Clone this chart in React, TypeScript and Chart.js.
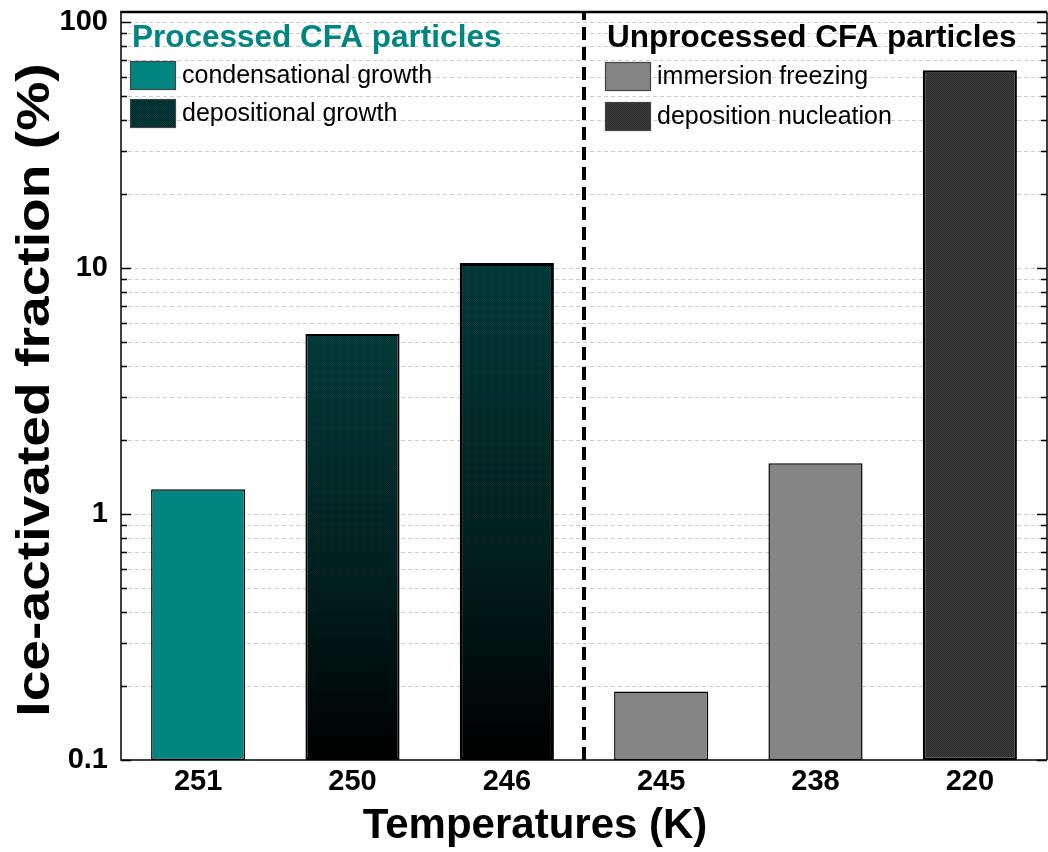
import React, { useEffect, useRef } from "react";
import { Chart, registerables } from "chart.js";

Chart.register(...registerables);

// Measured ice-activated fractions (%) at each temperature
const temperatures = ["251", "250", "246", "245", "238", "220"];
const activatedFraction = [1.26, 5.4, 10.5, 0.19, 1.61, 63.8];
const mechanisms = [
  "condensational growth",
  "depositional growth",
  "depositional growth",
  "immersion freezing",
  "immersion freezing",
  "deposition nucleation",
];

// Legend groups
const processedTitle = "Processed CFA particles";
const processedItems = ["condensational growth", "depositional growth"];
const unprocessedTitle = "Unprocessed CFA particles";
const unprocessedItems = ["immersion freezing", "deposition nucleation"];

// Log axis
const yTickLabels = [0.1, 1, 10, 100];
const yMin = 0.1;
const yMax = 110;

const FONT = "'Liberation Sans', Arial, Helvetica, sans-serif";
const TEAL = "#008580";

const gridValues: number[] = [];
for (let e = -1; e <= 1; e++) {
  for (let d = 1; d <= 9; d++) gridValues.push(Number((d * Math.pow(10, e)).toPrecision(3)));
}
gridValues.push(100);

function checker(ctx: CanvasRenderingContext2D, base: string, dot: string) {
  const c = document.createElement("canvas");
  c.width = 2;
  c.height = 2;
  const g = c.getContext("2d")!;
  g.fillStyle = base;
  g.fillRect(0, 0, 2, 2);
  g.fillStyle = dot;
  g.fillRect(0, 0, 1, 1);
  g.fillRect(1, 1, 1, 1);
  return ctx.createPattern(c, "repeat")!;
}

function fillFor(
  ctx: CanvasRenderingContext2D,
  mech: string,
  top: number,
  bottom: number,
  swatch = false
): string | CanvasGradient | CanvasPattern {
  if (mech === "condensational growth") return TEAL;
  if (mech === "immersion freezing") return "#858585";
  if (mech === "deposition nucleation") return checker(ctx, "#3e3e3e", "#2a2a2a");
  if (swatch) return "#003c3c";
  const g = ctx.createLinearGradient(0, top, 0, bottom);
  g.addColorStop(0, "#004343");
  g.addColorStop(0.55, "#002626");
  g.addColorStop(1, "#000000");
  return g;
}

const decorations = {
  id: "decorations",
  beforeDatasetsDraw(chart: any) {
    const { ctx, chartArea } = chart;
    const y = chart.scales.y;
    ctx.save();
    ctx.strokeStyle = "#cccccc";
    ctx.lineWidth = 1;
    ctx.setLineDash([4, 3]);
    for (const v of gridValues) {
      if (v <= yMin) continue;
      const py = Math.round(y.getPixelForValue(v)) + 0.5;
      ctx.beginPath();
      ctx.moveTo(chartArea.left, py);
      ctx.lineTo(chartArea.right, py);
      ctx.stroke();
    }
    ctx.restore();
  },
  afterDatasetsDraw(chart: any) {
    const { ctx, chartArea } = chart;
    const x = chart.scales.x;
    const y = chart.scales.y;
    const meta = chart.getDatasetMeta(0);

    // fine dotted texture on the depositional growth bars
    ctx.save();
    const dots = checker(ctx, "rgba(0,0,0,0)", "rgba(0,0,0,0.28)");
    meta.data.forEach((bar: any, i: number) => {
      if (mechanisms[i] !== "depositional growth") return;
      const w = bar.width;
      ctx.fillStyle = dots;
      ctx.fillRect(bar.x - w / 2 + 2, bar.y + 2, w - 4, bar.base - bar.y - 2);
    });
    ctx.restore();

    // frame
    ctx.save();
    ctx.strokeStyle = "#000";
    ctx.lineWidth = 1.5;
    ctx.beginPath();
    ctx.moveTo(chartArea.left, chartArea.top);
    ctx.lineTo(chartArea.left, chartArea.bottom);
    ctx.lineTo(chartArea.right, chartArea.bottom);
    ctx.moveTo(chartArea.right, chartArea.top);
    ctx.lineTo(chartArea.right, chartArea.bottom);
    ctx.stroke();
    ctx.lineWidth = 2.5;
    ctx.beginPath();
    ctx.moveTo(chartArea.left - 0.75, chartArea.top);
    ctx.lineTo(chartArea.right, chartArea.top);
    ctx.stroke();

    // inward ticks on both vertical axes
    ctx.lineWidth = 1.5;
    for (const v of gridValues) {
      const major = yTickLabels.includes(v);
      const len = major ? 10 : 6;
      const py = Math.round(y.getPixelForValue(v)) + 0.5;
      ctx.beginPath();
      ctx.moveTo(chartArea.left, py);
      ctx.lineTo(chartArea.left + len, py);
      ctx.moveTo(chartArea.right, py);
      ctx.lineTo(chartArea.right - len, py);
      ctx.stroke();
    }

    // divider between processed and unprocessed groups
    const split = (x.getPixelForValue(2) + x.getPixelForValue(3)) / 2;
    ctx.lineWidth = 4;
    ctx.setLineDash([13, 7]);
    ctx.beginPath();
    ctx.moveTo(split, chartArea.bottom);
    ctx.lineTo(split, chartArea.top);
    ctx.stroke();
    ctx.setLineDash([]);

    // legends
    const drawGroup = (
      left: number,
      title: string,
      titleColor: string,
      items: string[],
      rows: number[]
    ) => {
      ctx.font = `bold 31.5px ${FONT}`;
      ctx.fillStyle = titleColor;
      ctx.textBaseline = "alphabetic";
      ctx.textAlign = "left";
      ctx.fillText(title, left + 2, 47);
      items.forEach((item, k) => {
        const top = rows[k];
        ctx.fillStyle = fillFor(ctx, item, top, top + 29, true);
        ctx.fillRect(left, top, 46, 29);
        if (item === "depositional growth") {
          ctx.fillStyle = dots;
          ctx.fillRect(left, top, 46, 29);
        }
        ctx.strokeStyle = "#444";
        ctx.lineWidth = 1.2;
        ctx.strokeRect(left + 0.5, top + 0.5, 45, 28);
        ctx.font = `25px ${FONT}`;
        ctx.fillStyle = "#000";
        ctx.textBaseline = "middle";
        ctx.fillText(item, left + 52, top + 15);
      });
    };
    drawGroup(130, processedTitle, TEAL, processedItems, [61, 99]);
    drawGroup(605, unprocessedTitle, "#000", unprocessedItems, [62, 102]);

    // axis titles
    ctx.fillStyle = "#000";
    ctx.font = `bold 42px ${FONT}`;
    ctx.textAlign = "center";
    ctx.textBaseline = "alphabetic";
    ctx.fillText("Temperatures (K)", 535, 838);
    ctx.save();
    ctx.translate(49, 390);
    ctx.rotate(-Math.PI / 2);
    ctx.scale(1.2, 1);
    ctx.font = `bold 46px ${FONT}`;
    ctx.fillText("Ice-activated fraction (%)", 0, 0);
    ctx.restore();
    ctx.restore();
  },
};

export default function App() {
  const ref = useRef<HTMLCanvasElement>(null);

  useEffect(() => {
    const canvas = ref.current;
    if (!canvas) return;
    const chart = new Chart(canvas, {
      type: "bar",
      data: {
        labels: temperatures,
        datasets: [
          {
            data: activatedFraction,
            backgroundColor: (c: any) => {
              if (c.type !== "data") return "#888";
              const ch = c.chart;
              const ys = ch.scales?.y;
              const i = c.dataIndex;
              if (!ys || !ch.chartArea) return "#003333";
              const top = ys.getPixelForValue(activatedFraction[i]);
              return fillFor(ch.ctx, mechanisms[i], top, ys.bottom);
            },
            borderColor: "#000",
            borderWidth: [1.5, 2, 3, 1.5, 1.5, 2.5],
            borderSkipped: false,
            barPercentage: 0.61,
            categoryPercentage: 1,
          },
        ],
      },
      options: {
        animation: false,
        responsive: false,
        devicePixelRatio: 1,
        layout: { padding: { top: 12, right: 1, left: 0, bottom: 0 } },
        plugins: { legend: { display: false }, tooltip: { enabled: false } },
        scales: {
          x: {
            type: "category",
            offset: true,
            grid: { display: false },
            border: { display: false },
            ticks: {
              color: "#000",
              font: { family: FONT, size: 29, weight: "bold" },
              padding: -3,
              maxRotation: 0,
            },
            afterFit: (s: any) => {
              s.height = 92;
              s.paddingLeft = 0;
              s.paddingRight = 0;
            },
          },
          y: {
            type: "logarithmic",
            min: yMin,
            max: yMax,
            grid: { display: false },
            border: { display: false },
            afterBuildTicks: (s: any) => {
              s.ticks = gridValues.map((v) => ({ value: v, major: yTickLabels.includes(v) }));
            },
            ticks: {
              color: "#000",
              font: { family: FONT, size: 29, weight: "bold" },
              padding: 5,
              autoSkip: false,
              callback: (v: any) => (yTickLabels.includes(Number(v)) ? String(v) : ""),
            },
            afterFit: (s: any) => {
              s.width = 121;
              s.paddingTop = 0;
              s.paddingBottom = 0;
            },
          },
        },
      },
      plugins: [decorations],
    });
    return () => chart.destroy();
  }, []);

  return (
    <div style={{ position: "absolute", left: 0, top: 0, width: 1048, height: 852, background: "#fff" }}>
      <canvas ref={ref} width={1048} height={852} />
    </div>
  );
}
